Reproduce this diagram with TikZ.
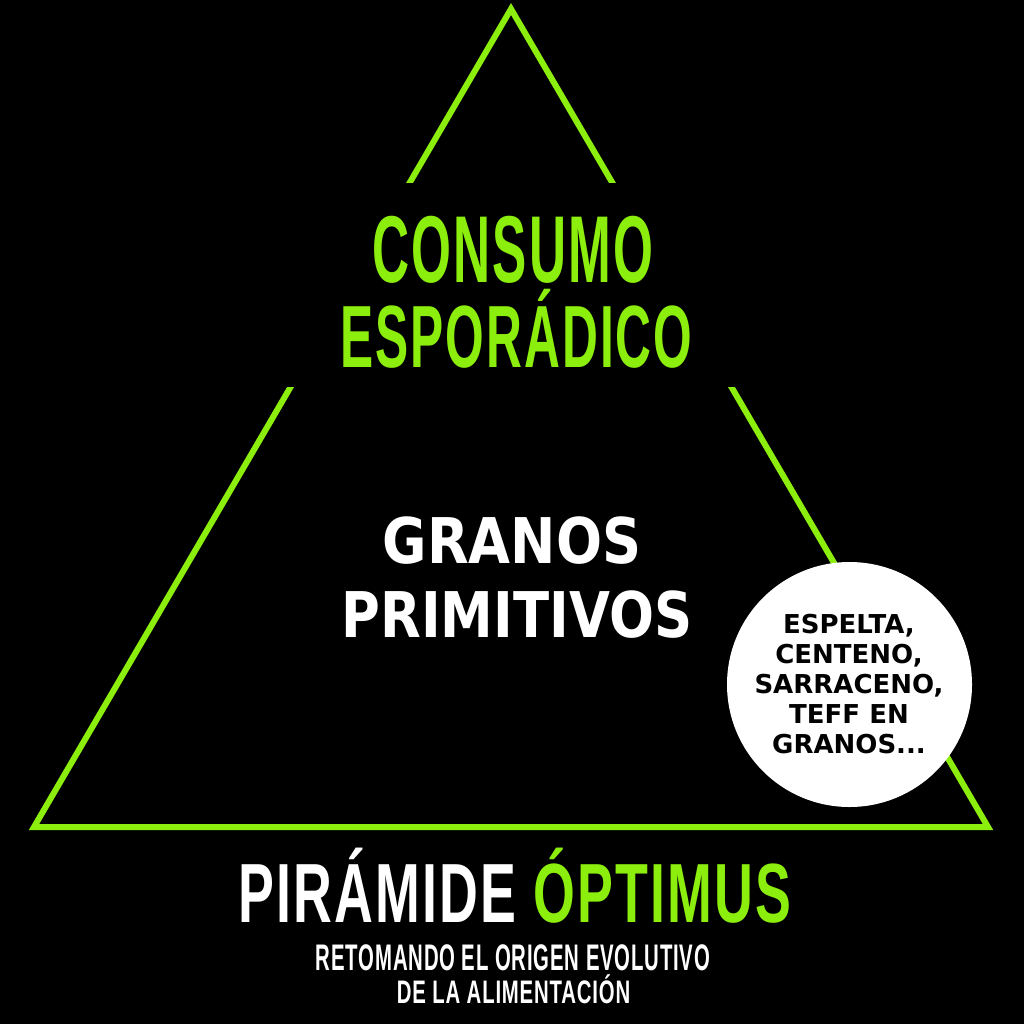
\documentclass[tikz,border=0pt]{standalone}
\usepackage{fontspec}
\setmainfont{Liberation Sans}
\newfontfamily\widefont{DejaVu Sans}
\newfontfamily\spacedfont[LetterSpace=4]{Liberation Sans}
\definecolor{lime}{RGB}{140,238,12}
\tikzset{
  tri/.style={draw=lime, line width=6pt, line join=miter},
  condgreen/.style={anchor=base, text=lime, inner sep=0pt, font=\spacedfont\bfseries\fontsize{95}{95}\selectfont},
  widewhite/.style={anchor=base, text=white, inner sep=0pt, font=\widefont\bfseries\fontsize{63}{63}\selectfont},
  circtext/.style={anchor=base, text=black, inner sep=0pt, font=\widefont\bfseries\fontsize{26}{26}\selectfont},
  titletext/.style={anchor=base, text=white, inner sep=0pt, font=\spacedfont\bfseries\fontsize{84}{84}\selectfont},
  subtext/.style={anchor=base, text=white, inner sep=0pt, font=\spacedfont\bfseries\fontsize{37}{37}\selectfont},
}
\begin{document}
\begin{tikzpicture}[x=1pt,y=-1pt]
\fill[black] (0,0) rectangle (1024,1024);
\useasboundingbox (0,0) rectangle (1024,1024);
\coordinate (apex) at (511,9);
\coordinate (bl) at (34,827);
\coordinate (br) at (988,827);
\begin{scope}
  \clip (0,0) rectangle (1024,183) (0,387) rectangle (1024,1024);
  \draw[tri] (apex) -- (bl) -- (br) -- cycle;
\end{scope}
\node[condgreen] (c1) at (513,282) {\scalebox{0.54}[1]{CONSUMO}};
\node[condgreen] (c2) at (516.5,367) {\scalebox{0.523}[0.93]{ESPORÁDICO}};
\node[widewhite] (g1) at (512,563) {\scalebox{0.86}[1]{GRANOS}};
\node[widewhite] (g2) at (517,637) {\scalebox{0.84}[1]{PRIMITIVOS}};
\node[circle, fill=white, minimum size=245pt, inner sep=0pt] (circ) at (849.5,684.5) {};
\node[circtext] (e1) at (849,633) {ESPELTA,};
\node[circtext] (e2) at (849,663) {CENTENO,};
\node[circtext] (e3) at (849,693) {SARRACENO,};
\node[circtext] (e4) at (849,723) {TEFF EN};
\node[circtext] (e5) at (849,753) {GRANOS...};
\node[titletext] (t1) at (515,922) {\scalebox{0.64}[1]{PIRÁMIDE \textcolor{lime}{ÓPTIMUS}}};
\node[subtext] (s1) at (513,970) {\scalebox{0.55}[1]{RETOMANDO EL ORIGEN EVOLUTIVO}};
\node[subtext] (s2) at (513.5,1003) {\scalebox{0.55}[0.88]{DE LA ALIMENTACIÓN}};
\end{tikzpicture}
\end{document}
